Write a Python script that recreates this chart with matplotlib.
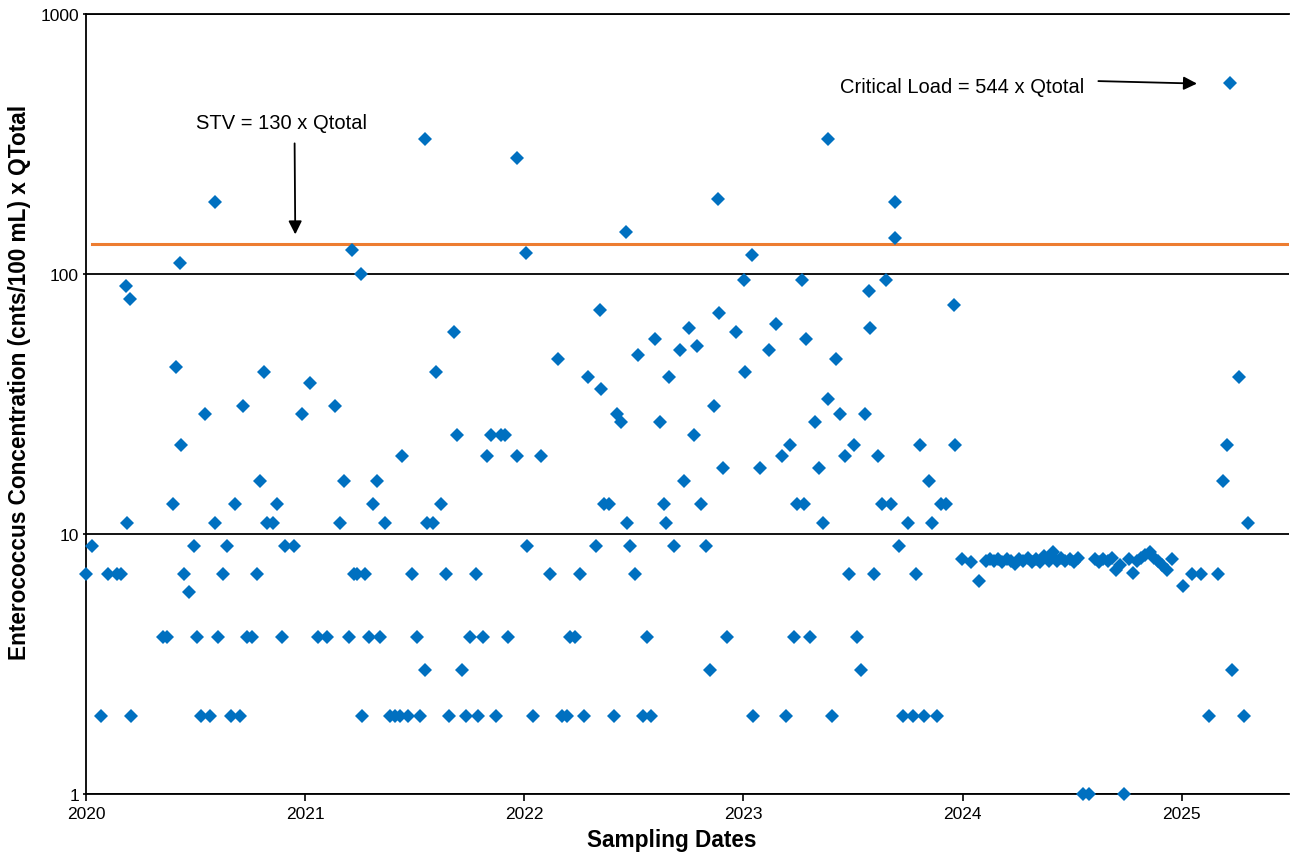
import numpy as np
import matplotlib
matplotlib.use("Agg")
from matplotlib import pyplot as plt
from matplotlib.ticker import FixedLocator, NullLocator, FuncFormatter

plt.rcParams["font.family"] = ["Liberation Sans", "DejaVu Sans"]

# sampling dates as decimal years, concentration x Qtotal
dates_2020 = [2020.000, 2020.027, 2020.067, 2020.100, 2020.143, 2020.161, 2020.183, 2020.189,
              2020.201, 2020.205, 2020.353, 2020.371, 2020.396, 2020.411, 2020.431, 2020.434,
              2020.449, 2020.470, 2020.493, 2020.505, 2020.524, 2020.545, 2020.566, 2020.588,
              2020.590, 2020.601, 2020.624, 2020.642, 2020.661, 2020.682, 2020.703, 2020.716,
              2020.734, 2020.757, 2020.781, 2020.795, 2020.811, 2020.828, 2020.855, 2020.871,
              2020.894, 2020.907, 2020.950, 2020.986]
conc_2020 = [7, 9, 2, 7, 7, 7, 90, 11, 80, 2, 4, 4, 13, 44, 110, 22, 7, 6, 9, 4, 2, 29,
             2, 190, 11, 4, 7, 9, 2, 13, 2, 31, 4, 4, 7, 16, 42, 11, 11, 13, 4, 9, 9, 29]

dates_2021 = [2021.023, 2021.061, 2021.099, 2021.138, 2021.158, 2021.179, 2021.200, 2021.216,
              2021.221, 2021.236, 2021.257, 2021.260, 2021.275, 2021.291, 2021.309, 2021.327,
              2021.342, 2021.365, 2021.388, 2021.411, 2021.434, 2021.444, 2021.470, 2021.487,
              2021.510, 2021.522, 2021.545, 2021.549, 2021.558, 2021.583, 2021.598, 2021.621,
              2021.641, 2021.658, 2021.680, 2021.695, 2021.715, 2021.734, 2021.753, 2021.778,
              2021.791, 2021.811, 2021.830, 2021.848, 2021.869, 2021.894, 2021.910, 2021.927,
              2021.965, 2021.969]
conc_2021 = [38, 4, 4, 31, 11, 16, 4, 124, 7, 7, 100, 2, 7, 4, 13, 16, 4, 11, 2, 2, 2, 20,
             2, 7, 4, 2, 330, 3, 11, 11, 42, 13, 7, 2, 60, 24, 3, 2, 4, 7, 2, 4, 20, 24, 2,
             24, 24, 4, 280, 20]

dates_2022 = [2022.006, 2022.012, 2022.042, 2022.078, 2022.119, 2022.155, 2022.172, 2022.195,
              2022.210, 2022.233, 2022.254, 2022.273, 2022.289, 2022.329, 2022.347, 2022.352,
              2022.362, 2022.389, 2022.408, 2022.423, 2022.442, 2022.464, 2022.467, 2022.484,
              2022.507, 2022.519, 2022.542, 2022.560, 2022.580, 2022.598, 2022.618, 2022.636,
              2022.648, 2022.662, 2022.685, 2022.712, 2022.731, 2022.753, 2022.775, 2022.790,
              2022.807, 2022.831, 2022.846, 2022.864, 2022.885, 2022.889, 2022.905, 2022.926,
              2022.965]
conc_2022 = [120, 9, 2, 20, 7, 47, 2, 2, 4, 4, 7, 2, 40, 9, 73, 36, 13, 13, 2, 29, 27, 145,
             11, 9, 7, 49, 2, 4, 2, 56, 27, 13, 11, 40, 9, 51, 16, 62, 24, 53, 13, 9, 3, 31,
             195, 71, 18, 4, 60]

dates_2023 = [2023.003, 2023.007, 2023.040, 2023.046, 2023.074, 2023.116, 2023.151, 2023.177,
              2023.193, 2023.211, 2023.230, 2023.245, 2023.269, 2023.275, 2023.286, 2023.306,
              2023.329, 2023.346, 2023.364, 2023.385, 2023.387, 2023.405, 2023.423, 2023.440,
              2023.463, 2023.481, 2023.504, 2023.517, 2023.539, 2023.557, 2023.574, 2023.577,
              2023.597, 2023.615, 2023.632, 2023.652, 2023.674, 2023.692, 2023.694, 2023.709,
              2023.727, 2023.749, 2023.775, 2023.787, 2023.805, 2023.826, 2023.845, 2023.863,
              2023.884, 2023.900, 2023.924, 2023.960, 2023.965, 2023.999]
conc_2023 = [95, 42, 118, 2, 18, 51, 64, 20, 2, 22, 4, 13, 95, 13, 56, 4, 27, 18, 11, 33,
             330, 2, 47, 29, 20, 7, 22, 4, 3, 29, 86, 62, 7, 20, 13, 95, 13, 190, 137, 9, 2,
             11, 2, 7, 22, 2, 16, 11, 2, 13, 13, 76, 22, 8.0]

# 2024: weekly sampling
dates_2024 = [2024.037, 2024.074, 2024.105, 2024.124, 2024.143, 2024.163, 2024.182, 2024.201,
              2024.220, 2024.239, 2024.259, 2024.278, 2024.297, 2024.316, 2024.335, 2024.355,
              2024.374, 2024.393, 2024.412, 2024.431, 2024.451, 2024.470, 2024.489, 2024.508,
              2024.527, 2024.548, 2024.575, 2024.604, 2024.623, 2024.643, 2024.662, 2024.681,
              2024.700, 2024.719, 2024.735, 2024.758, 2024.777, 2024.796, 2024.815, 2024.835,
              2024.854, 2024.873, 2024.892, 2024.911, 2024.931, 2024.957]
conc_2024 = [7.8, 6.6, 7.9, 8.0, 7.9, 8.0, 7.8, 8.0, 7.9, 7.7, 8.0, 7.9, 8.1, 7.8, 8.0, 7.8,
             8.2, 7.9, 8.5, 7.9, 8.1, 7.9, 8.0, 7.8, 8.1, 1, 1, 8.0, 7.8, 8.0, 7.9, 8.1, 7.3,
             7.6, 1, 8.0, 7.1, 7.9, 8.1, 8.3, 8.5, 8.1, 7.9, 7.6, 7.3, 8.0]

dates_2025 = [2025.006, 2025.048, 2025.087, 2025.127, 2025.164, 2025.187, 2025.205, 2025.219,
              2025.228, 2025.260, 2025.283, 2025.301]
conc_2025 = [6.3, 7, 7, 2, 7, 16, 22, 544, 3, 40, 2, 11]

stv = 130
years = [2020, 2021, 2022, 2023, 2024, 2025]

dates = np.concatenate([dates_2020, dates_2021, dates_2022, dates_2023, dates_2024, dates_2025])
conc = np.concatenate([conc_2020, conc_2021, conc_2022, conc_2023, conc_2024, conc_2025])

fig = plt.figure(figsize=(12.94, 8.54), dpi=100)
ax = fig.add_axes([86 / 1294, 1 - 795 / 854, (1289 - 86) / 1294, (795 - 15) / 854])

ax.axhline(stv, xmin=0.005, color="#ED7D31", lw=2.2, zorder=2)
ax.plot(dates, conc, "D", color="#0070C0", markersize=6.8, markeredgewidth=0,
        zorder=3, clip_on=False)

ax.set_yscale("log")
ax.set_ylim(1, 1000)
ax.set_xlim(2020, 2025.49)
ax.yaxis.set_major_locator(FixedLocator([1, 10, 100, 1000]))
ax.yaxis.set_minor_locator(NullLocator())
ax.yaxis.set_major_formatter(FuncFormatter(lambda v, p: f"{v:g}"))
ax.xaxis.set_major_locator(FixedLocator(years))
ax.xaxis.set_major_formatter(FuncFormatter(lambda v, p: f"{int(v)}"))
ax.grid(axis="y", color="black", lw=1.3, zorder=1)
ax.set_axisbelow(True)

for s in ["left", "bottom", "top"]:
    ax.spines[s].set_linewidth(1.3)
    ax.spines[s].set_color("black")
ax.spines["right"].set_visible(False)
ax.tick_params(axis="x", labelsize=12.5, direction="out", length=5, width=1.2)
ax.tick_params(axis="y", labelsize=12.5, direction="out", length=2, width=1.2, pad=3)

ax.set_xlabel("Sampling Dates", fontsize=16.3, fontweight="bold")
ax.set_ylabel("Enterococcus Concentration (cnts/100 mL) x QTotal", fontsize=16.3,
              fontweight="bold")
ax.xaxis.set_label_coords(0.487, -0.043)
ax.yaxis.set_label_coords(-0.046, 0.529)

arrow = dict(arrowstyle="-|>", color="black", lw=1.3, mutation_scale=20, shrinkA=0, shrinkB=0)
ax.text(2020.89, 384, "STV = 130 x Qtotal", ha="center", va="center", fontsize=14.5)
ax.annotate("", xy=(2020.955, 142), xytext=(2020.952, 318), arrowprops=arrow)
ax.text(2024.0, 528, "Critical Load = 544 x Qtotal", ha="center", va="center", fontsize=14.5)
ax.annotate("", xy=(2025.07, 540), xytext=(2024.62, 552), arrowprops=arrow)

fig.savefig("out.png", dpi=100)
